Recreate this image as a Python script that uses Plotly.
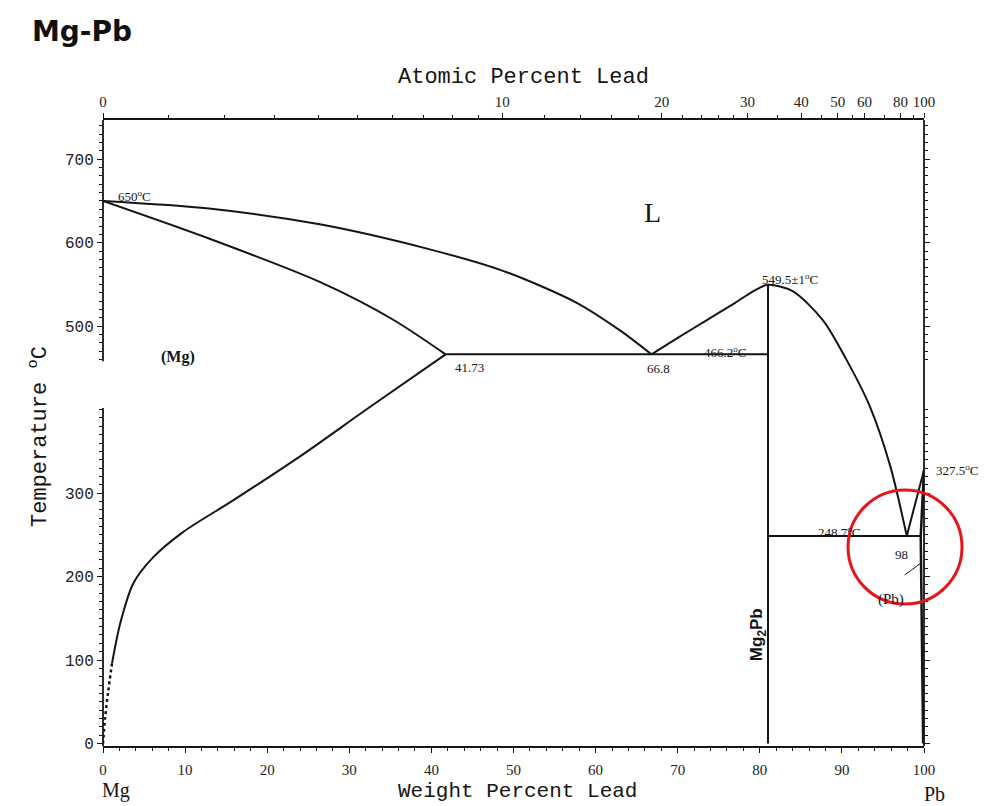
import plotly.graph_objects as go

# ---------------- data (weight % Pb, temperature in deg C) ----------------
liq_mg_wt = [0, 12.9, 26.4, 39.8, 48.8, 57.7, 63.1, 66.8]
liq_mg_T = [650, 641, 622, 592, 566, 528, 494, 466.2]

sol_mg_wt = [0, 12.9, 26.4, 35.3, 41.73]
sol_mg_T = [650, 605, 553, 508, 466.2]

solvus_mg_wt = [41.73, 32.2, 24.0, 15.8, 9.7, 6.1, 3.7, 2.1, 1.1]
solvus_mg_T = [466.2, 401, 344, 291, 253, 223, 192, 144, 96]

solvus_mg_dash_wt = [1.1, 0.6, 0.25, 0]
solvus_mg_dash_T = [96, 60, 30, 0]

liq_c_wt = [66.8, 70.0, 73.5, 77.0, 79.4, 81.0, 84.0, 87.7, 90.6, 93.4, 95.9, 97.9]
liq_c_T = [466.2, 486, 507, 528, 543, 549.5, 542, 507, 459, 404, 332, 248.7]

liq_pb_wt = [97.9, 100]
liq_pb_T = [248.7, 327.5]

sol_pb_wt = [100, 99.6]
sol_pb_T = [327.5, 248.7]

solvus_pb_wt = [99.6, 99.75, 99.9]
solvus_pb_T = [248.7, 150, 0]

mg2pb_wt = [81.0, 81.0]
mg2pb_T = [0, 549.5]

eut1_wt = [41.73, 81.0]
eut1_T = [466.2, 466.2]

eut2_wt = [81.0, 99.6]
eut2_T = [248.7, 248.7]

wt_ticks = [0, 10, 20, 30, 40, 50, 60, 70, 80, 90, 100]
T_ticks = [0, 100, 200, 300, 500, 600, 700]
at_ticks = [0, 10, 20, 30, 40, 50, 60, 80, 100]
at_minor = [1, 2, 3, 4, 5, 6, 7, 8, 9, 12, 14, 16, 18, 22, 24, 26, 28, 35, 45, 55, 70, 90]

M_PB = 207.2
M_MG = 24.305


def at_to_wt(a):
    return 100.0 * a * M_PB / (a * M_PB + (100.0 - a) * M_MG)


LINE = "#151515"
fig = go.Figure()


def add_line(x, y, shape="spline", dash="solid", width=2.0):
    fig.add_trace(go.Scatter(x=x, y=y, mode="lines",
                             line=dict(color=LINE, width=width, shape=shape, dash=dash, smoothing=0.8),
                             hoverinfo="skip", showlegend=False, cliponaxis=False))


add_line(liq_mg_wt, liq_mg_T)
add_line(sol_mg_wt, sol_mg_T)
add_line(solvus_mg_wt, solvus_mg_T)
add_line(solvus_mg_dash_wt, solvus_mg_dash_T, dash="dot", width=2.5)
add_line(liq_c_wt, liq_c_T)
add_line(liq_pb_wt, liq_pb_T, shape="linear")
add_line(sol_pb_wt, sol_pb_T, shape="linear", width=2.5)
add_line(solvus_pb_wt, solvus_pb_T, shape="linear", width=2.5)
add_line(mg2pb_wt, mg2pb_T, shape="linear")
add_line(eut1_wt, eut1_T, shape="linear")
add_line(eut2_wt, eut2_T, shape="linear")

# invisible trace for the top (atomic percent) axis
fig.add_trace(go.Scatter(x=[0, 100], y=[0, 0], xaxis="x2", mode="lines", line=dict(width=0),
                         opacity=0, hoverinfo="skip", showlegend=False))

T_minor = [t for t in range(0, 750, 10) if not (400 < t < 460)]

tickfont_lr = dict(family="Liberation Mono", size=16, color="#222")
tickfont_tb = dict(family="Liberation Serif", size=15, color="#222")

W, H = 1003, 806
PLOT_L, PLOT_T, PLOT_W, PLOT_H = 103, 120, 821, 626
fig.update_layout(
    width=W, height=H,
    margin=dict(l=PLOT_L, r=W - PLOT_L - PLOT_W, t=PLOT_T, b=H - PLOT_T - PLOT_H),
    paper_bgcolor="white", plot_bgcolor="white",
    title=dict(text="<b>Mg-Pb</b>", x=82 / W, y=1 - 31 / H, xanchor="center", yanchor="middle",
               font=dict(family="DejaVu Sans", size=28, color="#111")),
    xaxis=dict(range=[0, 100], tickvals=wt_ticks, ticktext=[str(v) for v in wt_ticks],
               showline=True, linecolor=LINE, linewidth=1.5, ticks="outside", ticklen=5, tickcolor=LINE,
               tickfont=tickfont_tb, ticklabelstandoff=4, showgrid=False, zeroline=False,
               minor=dict(dtick=2, tick0=0, ticks="outside", ticklen=3, tickcolor=LINE)),
    xaxis2=dict(range=[0, 100], overlaying="x", side="top", anchor="y",
                tickvals=[at_to_wt(a) for a in at_ticks], ticktext=[str(a) for a in at_ticks],
                showline=True, linecolor=LINE, linewidth=1.5, ticks="outside", ticklen=5, tickcolor=LINE,
                tickfont=tickfont_tb, showgrid=False, zeroline=False,
                minor=dict(tickvals=[at_to_wt(a) for a in at_minor], ticks="outside", ticklen=3, tickcolor=LINE)),
    yaxis=dict(range=[-3, 747], tickvals=T_ticks, ticktext=[str(v) for v in T_ticks],
               showline=False, ticks="outside", ticklen=5, tickcolor=LINE, mirror="ticks",
               tickfont=tickfont_lr, showgrid=False, zeroline=False,
               minor=dict(tickvals=T_minor, ticks="outside", ticklen=3, tickcolor=LINE)),
    shapes=[
        dict(type="line", xref="paper", yref="y", x0=0, x1=0, y0=-3, y1=402, line=dict(color=LINE, width=1.8)),
        dict(type="line", xref="paper", yref="y", x0=0, x1=0, y0=458, y1=747, line=dict(color=LINE, width=1.8)),
        dict(type="line", xref="paper", yref="paper", x0=1, x1=1, y0=0, y1=1, line=dict(color=LINE, width=1.8)),
        dict(type="circle", xref="paper", yref="paper", x0=0.9769 - 0.0694, x1=0.9769 + 0.0694,
             y0=0.3179 - 0.0911, y1=0.3179 + 0.0911, line=dict(color="#e8141b", width=3)),
    ],
)

lab = dict(family="Liberation Serif", size=13, color="#151515")
anns = [
    dict(text="650<sup>o</sup>C", x=3.8, y=656, font=lab),
    dict(text="L", x=66.9, y=636, font=dict(family="Liberation Serif", size=28, color="#151515")),
    dict(text="<b>(Mg)</b>", x=9.1, y=463, font=dict(family="Liberation Serif", size=16, color="#151515")),
    dict(text="41.73", x=44.7, y=450, font=lab),
    dict(text="66.8", x=67.6, y=449, font=lab),
    dict(text="466.2<sup>o</sup>C", x=75.8, y=469, font=lab),
    dict(text="549.5±1<sup>o</sup>C", x=83.7, y=556, font=lab),
    dict(text="248.7<sup>o</sup>C", x=89.6, y=253, font=lab),
    dict(text="98", x=97.3, y=226, font=lab),
    dict(text="(Pb)", x=96.0, y=172, font=dict(family="Liberation Serif", size=15, color="#151515")),
    dict(text="<b>Mg<sub>2</sub>Pb</b>", x=79.8, y=130, textangle=-90,
         font=dict(family="Liberation Sans", size=17, color="#151515")),
]
for a in anns:
    a.update(xref="x", yref="y", showarrow=False, xanchor="center", yanchor="middle")
    fig.add_annotation(**a)

fig.add_annotation(text="327.5<sup>o</sup>C", x=100, y=327.5, xref="x", yref="y", xanchor="left", yanchor="middle",
                   xshift=10, showarrow=False, font=lab)
fig.add_annotation(text=" ", x=99.6, y=216, xref="x", yref="y", ax=-19, ay=14, showarrow=True,
                   arrowhead=0, arrowwidth=1, arrowcolor=LINE)


def px_x(px):
    return (px - PLOT_L) / PLOT_W


def px_y(py):
    return (PLOT_T + PLOT_H - py) / PLOT_H


ttl = dict(family="Liberation Mono", size=22, color="#151515")
fig.add_annotation(text="Atomic Percent Lead", xref="paper", yref="paper", x=px_x(523), y=px_y(78),
                   showarrow=False, font=ttl, xanchor="center", yanchor="middle")
fig.add_annotation(text="Weight Percent Lead", xref="paper", yref="paper", x=px_x(517), y=px_y(791),
                   showarrow=False, font=dict(family="Liberation Mono", size=21, color="#151515"),
                   xanchor="center", yanchor="middle", borderpad=0)
fig.add_annotation(text="Temperature <sup>o</sup>C", xref="paper", yref="paper", x=px_x(38), y=px_y(437),
                   textangle=-90, showarrow=False, font=ttl, xanchor="center", yanchor="middle")
fig.add_annotation(text="Mg", xref="paper", yref="paper", x=px_x(116), y=px_y(790),
                   showarrow=False, font=dict(family="Liberation Serif", size=20, color="#151515"),
                   xanchor="center", yanchor="middle", borderpad=0)
fig.add_annotation(text="Pb", xref="paper", yref="paper", x=px_x(935), y=px_y(794),
                   showarrow=False, font=dict(family="Liberation Serif", size=20, color="#151515"),
                   xanchor="center", yanchor="middle", borderpad=0)

# the page body's default 8px margin would shift the 1003x806 figure; remove it
fig.write_html("out.html", config={"displayModeBar": False},
               post_script="document.body.style.margin='0px';")
